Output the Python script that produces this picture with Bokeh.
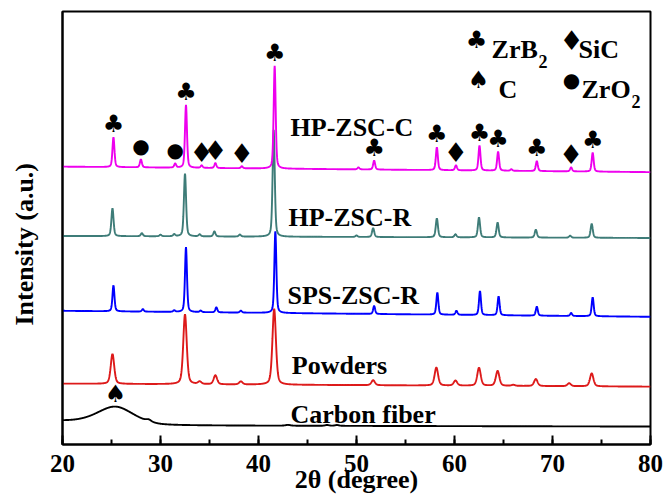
import numpy as np
from bokeh.plotting import figure
from bokeh.models import Label, ColumnDataSource, SingleIntervalTicker, FixedTicker
from bokeh.core.properties import value
from bokeh.embed import file_html
from bokeh.resources import INLINE

# ---------------- data ----------------
two_theta = np.linspace(20, 80, 2401)

series_names = ["HP-ZSC-C", "HP-ZSC-R", "SPS-ZSC-R", "Powders", "Carbon fiber"]
series_colors = ["#EE00EE", "#3E7C78", "#0000FF", "#DD1A1A", "#000000"]

# peak positions (deg), peak heights (a.u.), FWHM (deg), baseline (at 20 deg, at 80 deg)
hpc_pos = [25.2, 28.0, 31.5, 32.6, 34.2, 35.6, 38.3, 41.65, 50.2, 51.8, 58.2, 60.15, 62.55, 64.45, 65.8, 68.4, 71.9, 74.1]
hpc_int = [30, 8, 4, 63, 2.5, 5, 2, 103, 2, 9, 23, 5, 25, 19, 1.5, 10, 4, 19]
hpc_fwhm = 0.24
hpc_base = [278.5, 273.0]

hpr_pos = [25.1, 28.1, 30.0, 31.4, 32.5, 34.0, 35.5, 38.1, 41.55, 50.0, 51.7, 58.2, 60.1, 62.5, 64.4, 68.3, 71.8, 74.0]
hpr_int = [28, 3, 1.5, 2, 63, 2, 5, 2, 107, 1.5, 9, 19, 3, 20, 15, 8, 2, 14]
hpr_fwhm = 0.26
hpr_base = [209.0, 207.0]

sps_pos = [25.2, 28.2, 31.4, 32.6, 34.1, 35.7, 38.2, 41.72, 51.8, 58.25, 60.2, 62.6, 64.5, 68.4, 71.9, 74.1]
sps_int = [26, 2.5, 1.5, 65, 1.5, 5, 2, 82, 8, 22, 4, 24, 19, 9, 3, 19]
sps_fwhm = 0.24
sps_base = [134.0, 128.0]

pow_pos = [25.1, 32.5, 34.0, 35.6, 38.2, 41.6, 51.7, 58.15, 60.1, 62.5, 64.4, 66.0, 68.3, 71.7, 74.0]
pow_int = [30, 70, 2.5, 9, 3, 76, 5, 18, 5, 18, 15, 1, 7, 3, 13]
pow_fwhm = 0.42
pow_base = [61.0, 58.0]

cf_pos = [25.4, 28.8, 43.0, 47.0, 48.0]
cf_int = [17, 1.8, 0.8, 0.8, 0.8]
cf_fwhm = [4.4, 0.6, 0.6, 0.5, 0.5]
cf_base_x = [20, 30, 80]
cf_base_y = [23.3, 19.0, 18.0]

# phase markers placed above HP-ZSC-C peaks
marker_pos = [25.2, 28.0, 31.5, 32.6, 34.2, 35.6, 38.3, 41.65, 51.8, 58.2, 60.15, 62.55, 64.45, 68.4, 71.9, 74.1]
marker_sym = ["♣", "●", "●", "♣", "♦", "♦", "♦", "♣", "♣", "♣", "♦", "♣", "♣", "♣", "♦", "♣"]
carbon_marker_pos = [25.4]
carbon_marker_sym = ["♠"]


def pattern(pos, inten, fwhm, base_x, base_y):
    y = np.interp(two_theta, base_x, base_y)
    widths = fwhm if isinstance(fwhm, list) else [fwhm] * len(pos)
    for c, h, w in zip(pos, inten, widths):
        d = (two_theta - c) / (w / 2.0)
        lor = 1.0 / (1.0 + d ** 2)
        gau = np.exp(-np.log(2) * d ** 2)
        y = y + h * (0.4 * lor + 0.6 * gau)
    return y


curves = [
    pattern(hpc_pos, hpc_int, hpc_fwhm, [20, 80], hpc_base),
    pattern(hpr_pos, hpr_int, hpr_fwhm, [20, 80], hpr_base),
    pattern(sps_pos, sps_int, sps_fwhm, [20, 80], sps_base),
    pattern(pow_pos, pow_int, pow_fwhm, [20, 80], pow_base),
    pattern(cf_pos, cf_int, cf_fwhm, cf_base_x, cf_base_y),
]

# ---------------- figure ----------------
SERIF = "Liberation Serif"
SYM = "DejaVu Sans"

p = figure(width=663, height=496, x_range=(20, 80), y_range=(0, 434), title=None,
           output_backend="svg", toolbar_location=None,
           min_border_left=62, min_border_right=13, min_border_top=11, min_border_bottom=51)
p.background_fill_color = "white"
p.border_fill_color = "white"
p.outline_line_color = "black"
p.outline_line_width = 2
p.xgrid.visible = False
p.ygrid.visible = False

p.xaxis.ticker = SingleIntervalTicker(interval=10, num_minor_ticks=2)
p.xaxis.axis_line_width = 2
p.xaxis.major_tick_in = 9
p.xaxis.major_tick_out = 0
p.xaxis.minor_tick_in = 5
p.xaxis.minor_tick_out = 0
p.xaxis.major_tick_line_width = 2
p.xaxis.minor_tick_line_width = 2
p.xaxis.major_label_text_font = SERIF
p.xaxis.major_label_text_font_style = "bold"
p.xaxis.major_label_text_font_size = "25px"
p.xaxis.major_label_text_color = "black"
p.xaxis.major_label_standoff = 10
p.xaxis.axis_label = "2θ (degree)"
p.xaxis.axis_label_text_font = SERIF
p.xaxis.axis_label_text_font_style = "bold"
p.xaxis.axis_label_text_font_size = "26px"
p.xaxis.axis_label_text_color = "black"
p.xaxis.axis_label_standoff = -10

p.yaxis.ticker = FixedTicker(ticks=[])
p.yaxis.axis_line_width = 2
p.yaxis.major_tick_line_color = None
p.yaxis.minor_tick_line_color = None
p.yaxis.major_label_standoff = 0
# trailing no-break spaces shift the visible title slightly below the frame centre
p.yaxis.axis_label = "Intensity (a.u.)" + "\u00a0" * 5
p.yaxis.axis_label_text_font = SERIF
p.yaxis.axis_label_text_font_style = "bold"
p.yaxis.axis_label_text_font_size = "26px"
p.yaxis.axis_label_text_color = "black"
p.yaxis.axis_label_standoff = 24

# traces, bottom one first so the upper traces lie on top
for y, c in reversed(list(zip(curves, series_colors))):
    p.line(two_theta, y, line_color=c, line_width=1.9)

# series names
name_x = [43.27, 43.06, 42.96, 43.4, 43.27]
name_y = [318, 228, 149.5, 79.5, 30.5]
p.text(x=name_x, y=name_y, text=series_names, text_font=value(SERIF),
       text_font_style="bold", text_font_size=value("26px"), text_color="black",
       text_align="left", text_baseline="alphabetic")

SYM_SIZE = {"♣": "24px", "●": "20px", "♦": "27px", "♠": "24px"}


def marker_source(pos, syms, curve):
    xs, ys, sizes = [], [], []
    for c, s in zip(pos, syms):
        m = np.abs(two_theta - c) < 0.35
        top = curve[m].max()
        xs.append(c)
        ys.append(top + 13)
        sizes.append(SYM_SIZE[s])
    return ColumnDataSource(dict(x=xs, y=ys, t=syms, s=sizes))


for src in (marker_source(marker_pos, marker_sym, curves[0]),
            marker_source(carbon_marker_pos, carbon_marker_sym, curves[4])):
    p.text(x="x", y="y", text="t", source=src, text_font=value(SYM),
           text_font_size="s", text_color="black", text_align="center",
           text_baseline="middle")


# legend of phases
def lab(x, y, t, font=SERIF, size="26px", align="left", baseline="alphabetic"):
    p.add_layout(Label(x=x, y=y, text=t, text_font=font,
                       text_font_style="bold" if font == SERIF else "normal",
                       text_font_size=size, text_color="black", text_align=align,
                       text_baseline=baseline))


lab(62.24, 405, "♣", SYM, SYM_SIZE["♣"], "center", "middle")
lab(63.78, 396, "ZrB")
lab(68.57, 384, "2", size="18px")
lab(71.94, 405, "♦", SYM, SYM_SIZE["♦"], "center", "middle")
lab(72.65, 396, "SiC")
lab(62.45, 365, "♠", SYM, SYM_SIZE["♠"], "center", "middle")
lab(64.49, 356, "C")
lab(71.94, 365, "●", SYM, SYM_SIZE["●"], "center", "middle")
lab(72.96, 356, "ZrO")
lab(78.06, 344, "2", size="18px")

open("out.html", "w").write(file_html(p, INLINE))
